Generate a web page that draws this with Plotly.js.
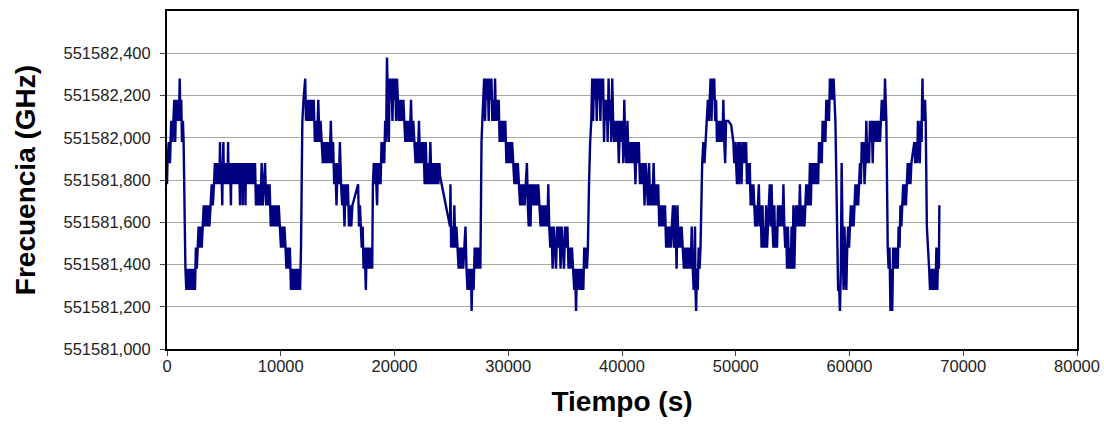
<!DOCTYPE html>
<html>
<head>
<meta charset="utf-8">
<script src="https://cdn.plot.ly/plotly-3.0.1.min.js"></script>
<style>
  html, body { margin: 0; padding: 0; background: #ffffff; }
  #chart { width: 1104px; height: 424px; }
</style>
</head>
<body>
<div id="chart"></div>
<script>
// Frequency values are stored as offsets (GHz) above this base frequency.
const baseGHz = 551581;

// Samples: [time (s), frequency offset (GHz)]
const cycle1 = [
  [0,.78],[40,.88],[150,.98],[260,.88],[370,1.08],[480,.98],[560,1.08],[640,1.18],[720,.98],[800,1.18],
  [880,1.08],[960,1.18],[1040,1.08],[1120,1.28],[1180,1.08],[1250,1.18],[1320,.98],[1400,1.08],[1460,.98],
  [1620,.38],[1700,.28]
];
const bowl1 = [
  [1780,.38],[1880,.28],[1980,.38],[2080,.28],[2180,.38],[2280,.28],[2380,.38],[2460,.28],[2540,.48],[2620,.38],
  [2700,.48],[2780,.58],[2870,.48],[2960,.58],[3050,.48],[3140,.58],[3230,.68],[3330,.58],[3430,.68],[3530,.58],
  [3630,.68],[3730,.58],[3830,.68],[3930,.78],[4030,.68],[4130,.78],[4210,.88],[4290,.78],[4370,.88],[4450,.78],
  [4530,.88],[4610,.78],[4660,.98],[4700,.78],[4780,.88],[4860,.68],[4900,.88],[4960,.98],[5000,.78],[5080,.88],
  [5160,.78],[5240,.88],[5320,.78],[5370,.98],[5420,.78],[5500,.88],[5580,.78],[5620,.68],[5660,.88],[5740,.78],
  [5820,.88],[5900,.78],[5980,.88],[6060,.78],[6140,.88],[6220,.78],[6300,.88],[6380,.78],[6420,.68],[6460,.88],
  [6540,.78],[6620,.88],[6660,.68],[6700,.88],[6780,.78],[6860,.88],[6900,.68],[6940,.88],[7020,.78],[7100,.88],
  [7180,.78],[7260,.88],[7340,.78],[7420,.88],[7500,.78],[7580,.88],[7660,.78],[7740,.88],[7820,.68],[7920,.78],
  [8020,.68],[8120,.78],[8220,.68],[8320,.88],[8420,.68],[8520,.78],[8620,.88],[8720,.68],[8820,.78],[8920,.68],
  [9020,.78],[9120,.58],[9220,.68],[9320,.58],[9420,.68],[9520,.58],[9620,.68],[9720,.58],[9820,.68],[9920,.58],
  [10020,.48],[10120,.58],[10220,.48],[10320,.58],[10420,.48],[10500,.38],[10600,.48],[10700,.38],[10800,.48],
  [10900,.28],[11000,.38],[11100,.28],[11200,.38],[11300,.28],[11400,.38],[11500,.28],[11600,.38],[11700,.28],[11780,.48]
];
const cycle2 = [
  [11900,1.08],[12000,1.18],[12150,1.28],[12220,1.08],[12300,1.18],[12400,1.08],[12500,1.18],[12600,1.08],[12700,1.18],
  [12800,1.08],[12900,1.18],[13000,.98],[13100,1.08],[13200,.98],[13300,1.18],[13400,.98],[13500,1.08],[13600,.98],
  [13700,.88],[13800,.98],[13900,.88],[14000,.98],[14100,.88],[14200,.98],[14300,.88],[14400,1.08],[14500,.88],
  [14600,.98],[14700,.78],[14800,.88],[14900,.68],[15000,.88],[15100,.78],[15200,.98],[15300,.78],[15400,.68],
  [15500,.78],[15600,.58],[15700,.78],[15800,.68],[15900,.78],[16000,.58],[16100,.68],[16200,.58],[16300,.68],
  [16800,.78],[16880,.58],[16960,.68],[17040,.58],[17120,.48],[17200,.58],[17280,.38],[17380,.48],[17480,.28],
  [17560,.48],[17650,.38],[17750,.48],[17850,.38],[17950,.48],[18040,.38]
];
const cycle3 = [
  [18100,.78],[18180,.88],[18250,.78],[18330,.88],[18400,.78],[18470,.68],[18540,.88],[18620,.78],[18700,.88],
  [18780,.78],[18860,.98],[18940,.88],[19020,.98],[19100,.88],[19180,1.08],[19260,.98],[19340,1.38],[19420,1.18],
  [19500,.98],[19580,1.28],[19660,1.18],[19740,1.28],[19820,1.08],[19900,1.28],[19980,1.18],[20060,1.28],[20140,1.08],
  [20220,1.28],[20300,1.18],[20380,1.08],[20460,1.18],[20540,1.08],[20620,1.18],[20700,1.08],[20780,1.18],[20860,1.08],
  [20950,.98],[21050,1.08],[21150,.98],[21250,1.08],[21350,.98],[21450,1.18],[21550,.98],[21650,1.08],[21750,.98],
  [21850,.88],[21950,.98],[22050,.88],[22150,1.08],[22250,.88],[22350,.98],[22450,.88],[22550,.98],[22650,.78],
  [22750,.98],[22850,.78],[22950,.88],[23050,.78],[23150,.98],[23250,.78],[23350,.88],[23450,.78],[23550,.88],
  [23650,.78],[23750,.88],[23850,.78],[23950,.88],[24000,.82],[24880,.58],[24920,.78],[24980,.48],[25060,.58],
  [25160,.48],[25260,.68],[25340,.48],[25440,.58],[25540,.48],[25640,.38],[25740,.48],[25840,.38],[25940,.48],
  [26040,.38],[26140,.48],[26240,.58],[26330,.38],[26420,.28],[26520,.38],[26620,.28],[26720,.38],[26780,.18],
  [26860,.38],[26950,.28],[27050,.48],[27150,.38],[27250,.48],[27350,.38],[27450,.48],[27550,.38]
];
const cycle4 = [
  [27650,.98],[27720,1.08],[27800,1.18],[27880,1.28],[27960,1.08],[28040,1.28],[28120,1.18],[28200,1.28],[28280,1.08],
  [28360,1.28],[28440,1.18],[28520,1.28],[28600,1.08],[28680,1.18],[28760,1.08],[28840,1.28],[28920,1.08],[29000,1.18],
  [29080,1.08],[29160,1.18],[29240,.98],[29340,1.08],[29440,.98],[29540,1.08],[29640,.98],[29740,1.08],[29840,.88],
  [29940,.98],[30040,.88],[30140,.98],[30240,.88],[30340,.98],[30440,.88],[30540,.78],[30640,.88],[30740,.78],
  [30840,.88],[30940,.78],[31040,.68],[31140,.78],[31240,.68],[31340,.78],[31440,.68],[31540,.78],[31640,.88],
  [31720,.68],[31800,.58],[31880,.78],[31960,.58],[32040,.78],[32140,.68],[32240,.78],[32340,.68],[32440,.78],
  [32540,.68],[32640,.78],[32740,.68],[32840,.58],[32940,.68],[33040,.58],[33140,.68],[33240,.58],[33340,.68],
  [33440,.58],[33520,.78],[33600,.58],[33700,.48],[33800,.58],[33900,.38],[34000,.58],[34100,.48],[34200,.38],
  [34300,.58],[34400,.48],[34500,.58],[34600,.38],[34700,.58],[34800,.48],[34900,.38],[35000,.58],[35100,.48],
  [35200,.58],[35300,.38],[35400,.48],[35500,.38],[35600,.48],[35700,.38],[35800,.28],[35880,.38],[35960,.18],
  [36040,.38],[36120,.28],[36200,.38],[36280,.28],[36360,.38],[36440,.28],[36520,.38],[36600,.28],[36680,.48],
  [36760,.38],[36840,.48],[36920,.38],[37000,.48]
];
const cycle5 = [
  [37100,.78],[37200,.98],[37300,1.08],[37380,1.28],[37460,1.08],[37540,1.28],[37620,1.18],[37700,1.28],[37780,1.08],
  [37860,1.28],[37940,1.18],[38020,1.28],[38100,1.08],[38180,1.28],[38260,1.18],[38340,1.28],[38420,.98],[38500,1.18],
  [38580,1.08],[38660,1.18],[38740,.98],[38820,1.28],[38900,1.08],[38980,1.18],[39060,.98],[39140,1.28],[39220,1.08],
  [39320,.98],[39420,1.08],[39520,.98],[39620,1.08],[39720,.88],[39820,1.08],[39920,.98],[40020,1.08],[40120,.88],
  [40200,1.18],[40280,.98],[40380,.88],[40480,1.08],[40580,.88],[40680,.98],[40780,.88],[40880,.98],[40980,.88],
  [41080,.98],[41180,.78],[41280,.98],[41380,.88],[41480,.98],[41580,.78],[41680,.88],[41780,.78],[41880,.88],
  [41980,.68],[42080,.88],[42180,.78],[42280,.68],[42380,.88],[42480,.68],[42580,.78],[42680,.68],[42780,.88],
  [42880,.68],[42980,.78],[43080,.68],[43180,.78],[43280,.58],[43380,.68],[43480,.58],[43580,.68],[43680,.58],
  [43780,.68],[43880,.48],[43980,.58],[44080,.48],[44180,.58],[44280,.48],[44380,.58],[44480,.68],[44560,.48],
  [44640,.68],[44720,.58],[44800,.38],[44880,.68],[44960,.48],[45040,.58],[45140,.48],[45240,.58],[45340,.48],
  [45440,.38],[45540,.48],[45640,.38],[45740,.48],[45840,.38],[45940,.48],[46040,.38],[46130,.58],[46220,.38],
  [46300,.28],[46380,.38],[46420,.58],[46460,.28],[46520,.18],[46580,.38],[46660,.28],[46740,.48],[46820,.38],[46900,.48]
];
const cycle6 = [
  [47050,.88],[47150,.98],[47250,.88],[47350,.98],[47450,1.08],[47550,1.18],[47630,1.08],[47710,1.18],[47790,1.28],
  [47870,1.08],[47950,1.28],[48030,1.18],[48110,1.28],[48190,1.08],[48270,1.18],[48350,.98],[48430,1.08],[48510,.98],
  [48590,1.08],[48670,.98],[48750,1.08],[48830,.98],[48910,1.18],[48990,.98],[49070,.88],[49150,1.08],[49350,1.08],
  [49600,1.06],[49790,.98],[49870,.88],[49950,.98],[50030,.88],[50110,.78],[50190,.98],[50270,.78],[50350,.98],
  [50430,.88],[50510,.78],[50590,.98],[50670,.88],[50750,.98],[50830,.88],[50910,.98],[50990,.78],[51070,.88],
  [51150,.78],[51230,.88],[51310,.68],[51390,.78],[51470,.68],[51550,.78],[51630,.68],[51710,.58],[51790,.68],
  [51870,.58],[51950,.68],[52030,.78],[52110,.58],[52190,.68],[52270,.48],[52350,.68],[52430,.48],[52510,.58],
  [52590,.48],[52670,.68],[52750,.48],[52830,.58],[52910,.68],[52990,.78],[53070,.58],[53150,.78],[53230,.58],
  [53310,.48],[53390,.68],[53470,.48],[53550,.58],[53630,.48],[53710,.68],[53790,.58],[53870,.68],[53950,.58],
  [54030,.68],[54110,.58],[54190,.78],[54270,.58],[54350,.48],[54430,.58],[54510,.38],[54590,.58],[54670,.38],
  [54750,.48],[54830,.38],[54910,.58],[54990,.38],[55070,.68],[55150,.38],[55230,.58],[55310,.68],[55390,.58],
  [55470,.68],[55550,.58],[55640,.78],[55720,.58],[55800,.68],[55880,.58],[55960,.68],[56040,.58],[56120,.68],
  [56200,.78],[56280,.68],[56360,.78],[56440,.68],[56520,.88],[56600,.68],[56680,.88],[56760,.78],[56840,.88],
  [56920,.78],[57000,.88],[57080,.78],[57160,.88],[57240,.78],[57320,.98],[57400,.88],[57480,.98],[57560,.88],
  [57640,1.08],[57720,.98],[57800,1.08],[57880,.98],[57960,1.18],[58040,1.08],[58120,1.18],[58200,1.08],[58280,1.28],
  [58360,1.18],[58440,1.28],[58520,1.18],[58600,1.28],[58680,1.18],[58760,1.08]
];
const cycle7 = [
  [59000,.28],[59100,.28],[59160,.18],[59240,.38],[59310,.88],[59400,.48],[59480,.28],[59560,.58],[59640,.38],
  [59720,.28],[59800,.48],[59880,.58],[59960,.48],[60040,.58],[60120,.68],[60200,.58],[60280,.68],[60360,.58],
  [60440,.68],[60520,.78],[60600,.68],[60680,.78],[60760,.68],[60840,.78],[60920,.88],[61000,.78],[61080,.98],
  [61160,.88],[61240,.98],[61320,.78],[61400,.88],[61480,1.08],[61560,.88],[61640,.98],[61720,.88],[61800,1.08],
  [61880,.98],[61960,1.08],[62040,.88],[62120,1.08],[62200,.98],[62280,1.08],[62360,.98],[62440,1.08],[62520,.98],
  [62600,1.08],[62680,.98],[62760,1.08],[62840,1.18],[62920,1.08],[63000,1.18],[63060,1.08],[63120,1.28],[63180,1.18],
  [63240,1.08]
];
const cycle8 = [
  [63360,.48],[63440,.38],[63520,.48],[63600,.18],[63680,.38],[63760,.18],[63840,.48],[63920,.38],[64000,.48],
  [64080,.38],[64160,.48],[64240,.38],[64320,.58],[64400,.48],[64480,.68],[64560,.58],[64640,.68],[64720,.78],
  [64800,.68],[64880,.78],[64960,.68],[65040,.78],[65120,.88],[65200,.78],[65280,.88],[65360,.78],[65440,.88],
  [65700,.98],[65780,.88],[65860,.98],[65940,.88],[66020,1.08],[66100,.98],[66180,.88],[66260,1.08],[66340,.98],
  [66380,1.18],[66420,1.28],[66460,1.08],[66520,1.18],[66580,1.08],[66640,1.18],[66700,1.08],[66800,.58],[67000,.38],
  [67080,.28],[67160,.38],[67240,.28],[67320,.38],[67400,.28],[67480,.38],[67560,.28],[67640,.48],[67720,.28],
  [67800,.48],[67860,.38],[67900,.68]
];

// Axis ticks
const xTickVals = [0, 10000, 20000, 30000, 40000, 50000, 60000, 70000, 80000];
const xTickText = ['0', '10000', '20000', '30000', '40000', '50000', '60000', '70000', '80000'];
const yTickVals = [551581.0, 551581.2, 551581.4, 551581.6, 551581.8, 551582.0, 551582.2, 551582.4];
const yTickText = ['551581,000', '551581,200', '551581,400', '551581,600', '551581,800', '551582,000', '551582,200', '551582,400'];

const samples = [].concat(cycle1, bowl1, cycle2, cycle3, cycle4, cycle5, cycle6, cycle7, cycle8);
const timeS = samples.map(p => p[0]);
const freqGHz = samples.map(p => baseGHz + p[1]);

const trace = {
  type: 'scatter',
  mode: 'lines',
  x: timeS,
  y: freqGHz,
  line: { color: '#000080', width: 2.4, simplify: false },
  hoverinfo: 'x+y'
};

const fontFamily = '"Liberation Sans", Arial, sans-serif';

const layout = {
  width: 1104,
  height: 424,
  margin: { l: 167, r: 27, t: 11, b: 75, pad: 0 },
  paper_bgcolor: '#ffffff',
  plot_bgcolor: '#ffffff',
  showlegend: false,
  font: { family: fontFamily, color: '#222222', size: 16.5 },
  xaxis: {
    range: [0, 80000],
    tickvals: xTickVals,
    ticktext: xTickText,
    showgrid: false,
    zeroline: false,
    showline: true,
    linecolor: '#000000',
    linewidth: 2,
    mirror: true,
    ticks: 'outside',
    ticklen: 5,
    tickwidth: 1,
    tickcolor: '#444444',
    tickfont: { family: fontFamily, size: 16.5, color: '#222222' },
    ticklabelstandoff: -4,
    title: { text: 'Tiempo (s)', font: { family: fontFamily, size: 28, color: '#000000', weight: 'bold' }, standoff: 18 }
  },
  yaxis: {
    range: [551581.0, 551582.6],
    tickvals: yTickVals,
    ticktext: yTickText,
    showgrid: true,
    gridcolor: '#a8a8a8',
    gridwidth: 1,
    zeroline: false,
    showline: true,
    linecolor: '#000000',
    linewidth: 2,
    mirror: true,
    ticks: 'outside',
    ticklen: 5,
    tickwidth: 1,
    tickcolor: '#444444',
    tickfont: { family: fontFamily, size: 16.5, color: '#222222' },
    ticklabelstandoff: 6,
    title: { text: 'Frecuencia (GHz)', font: { family: fontFamily, size: 28, color: '#000000', weight: 'bold' }, standoff: 20 }
  }
};

Plotly.newPlot('chart', [trace], layout, { displayModeBar: false, staticPlot: true });
</script>
</body>
</html>
